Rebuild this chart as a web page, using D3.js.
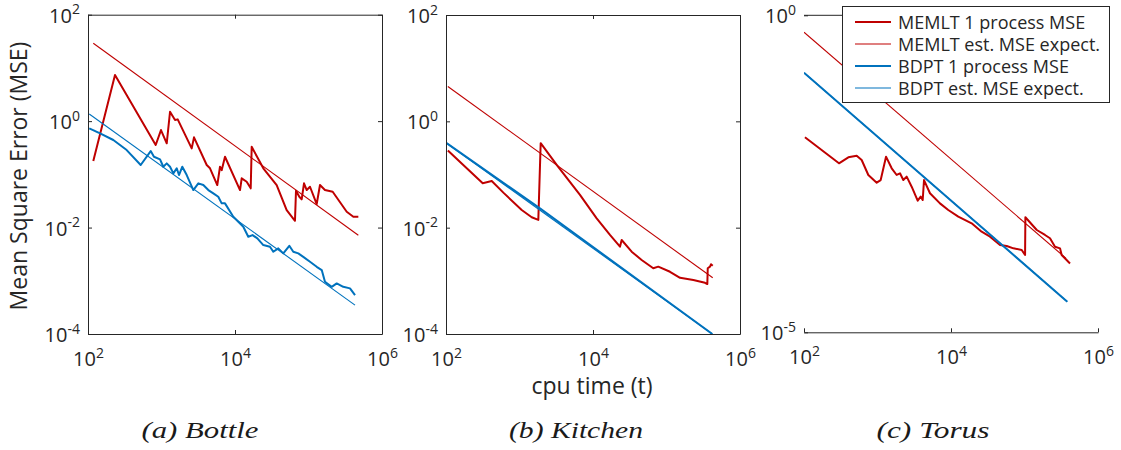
<!DOCTYPE html>
<html>
<head>
<meta charset="utf-8">
<script src="https://cdn.jsdelivr.net/npm/d3@7"></script>
<style>
  body { margin: 0; background: #fff; }
  svg text { font-family: "Open Sans", "Noto Sans", sans-serif; fill: #262626; }
  svg text.caption { font-family: "Liberation Serif", serif; font-style: italic; fill: #1a1a1a; }
</style>
</head>
<body>
<svg id="chart" width="1121" height="450"></svg>
<script>
// ---- tick exponents (labels are drawn as 10^e) ----
const xTickExps = [2, 4, 6];
const yTickExpsWide = [2, 0, -2, -4];
const yTickExpsTorus = [0, -5];

// ---- legend / caption text ----
const seriesNames = ["MEMLT 1 process MSE", "MEMLT est. MSE expect.", "BDPT 1 process MSE", "BDPT est. MSE expect."];
const captions = ["(a) Bottle", "(b) Kitchen", "(c) Torus"];

// ---- Bottle: [cpu time, MSE] ----
const bottleMemlt = [[118,0.178],[233,7.36],[834,0.356],[984,0.68],[1178,0.383],[1306,1.50],[1528,1.05],[1661,1.08],
  [2576,0.308],[2768,0.496],[4121,0.150],[4571,0.130],[5741,0.063],[6250,0.139],[6590,0.120],[7310,0.214],
  [11700,0.0507],[12330,0.0841],[14420,0.0726],[16360,0.0546],[16870,0.330],[24270,0.130],[36900,0.063],
  [50470,0.0213],[65460,0.0134],[67600,0.0492],[74990,0.0379],[80760,0.0339],[86870,0.0678],[94600,0.0507],
  [104800,0.0585],[129300,0.0277],[143300,0.063],[167500,0.0507],[213300,0.0471],[331100,0.0198],[407400,0.0160],[476400,0.0160]];
const bottleMemltEst = [[118,29],[476400,0.00718]];
const bottleBdpt = [[104,0.733],[146,0.590],[221,0.442],[336,0.286],[521,0.150],[713,0.274],[790,0.214],[955,0.191],
  [1058,0.139],[1178,0.161],[1306,0.139],[1449,0.1045],[1611,0.130],[1730,0.097],[1919,0.139],[2203,0.097],
  [2710,0.0507],[3170,0.0678],[3707,0.063],[4335,0.0507],[5070,0.044],[5920,0.0379],[6590,0.0285],[7310,0.0285],
  [9480,0.016],[11090,0.01285],[12970,0.01035],[15160,0.00671],[17340,0.00723],[20140,0.00627],[24270,0.00469],
  [29920,0.00436],[33190,0.00351],[38820,0.00406],[45400,0.00327],[54830,0.00455],[62090,0.00351],[72610,0.00327],
  [84920,0.00282],[104800,0.00228],[129300,0.00183],[151400,0.00159],[167500,0.000957],[206800,0.00077],
  [242100,0.000893],[297200,0.00077],[367000,0.00072],[429500,0.000538]];
const bottleBdptEst = [[104,1.36],[429500,0.000349]];

// ---- Kitchen ----
const kitchenMemlt = [[106,0.282],[316,0.0686],[419,0.0757],[603,0.0456],[1072,0.0215],[1466,0.0157],[1803,0.014],
  [1942,0.388],[3206,0.152],[6650,0.0413],[11220,0.0150],[17010,0.0073],[23280,0.00439],[24550,0.00586],
  [33570,0.00353],[45920,0.00247],[66070,0.00172],[77270,0.00185],[111600,0.00148],[152800,0.00114],
  [231800,0.00104],[334200,0.00092],[359300,0.00087],[364000,0.00172],[390900,0.00185],[402800,0.00205],[425600,0.00192]];
const kitchenMemltEst = [[106,4.52],[425600,0.00114]];
const kitchenBdpt = [[102,0.388],[1940,0.0226],[420000,0.0001]];
const kitchenBdptEst = [[102,0.388],[420000,0.0001]];

// ---- Torus ----
const torusMemlt = [[103,0.0119],[299,0.00463],[401,0.00576],[521,0.0061],[609,0.00522],[750,0.00303],[975,0.00229],
  [1105,0.00252],[1306,0.00589],[1560,0.00386],[1824,0.00303],[2023,0.00322],[2245,0.00252],[2495,0.00285],
  [2917,0.00198],[3521,0.00119],[3870,0.00138],[4121,0.00122],[4295,0.00252],[5176,0.00156],[7080,0.00108],
  [9180,0.00085],[12560,0.000666],[19100,0.000524],[26120,0.000386],[33960,0.000322],[46450,0.000238],
  [57280,0.00023],[70630,0.000211],[91650,0.000199],[101800,0.000166],[102800,0.000652],[146900,0.000411],
  [190100,0.000343],[222300,0.000304],[260000,0.000224],[304100,0.000211],[320600,0.000166],[416000,0.000122]];
const torusMemltEst = [[100,0.54],[367000,0.000147]];
const torusBdpt = [[100,0.1244],[382000,0.0000304]];
const torusBdptEst = [[100,0.1244],[382000,0.0000304]];

// ---- styling ----
const RED = "#bf0000", BLUE = "#0072bd", AXIS = "#262626";
const styles = [
  { color: RED, width: 2 },
  { color: RED, width: 1.1 },
  { color: BLUE, width: 2 },
  { color: BLUE, width: 1.1 }
];

const panels = [
  { left: 88, right: 382, top: 14.7, bottom: 334, yDomain: [1e-4, 1e2], yTicks: yTickExpsWide, box: true,
    caption: captions[0], capX: 200, capW: 117, series: [bottleMemlt, bottleMemltEst, bottleBdpt, bottleBdptEst] },
  { left: 446, right: 740, top: 15, bottom: 334, yDomain: [1e-4, 1e2], yTicks: yTickExpsWide, box: true,
    caption: captions[1], capX: 576, capW: 134, series: [kitchenMemlt, kitchenMemltEst, kitchenBdpt, kitchenBdptEst] },
  { left: 804, right: 1098, top: 15.3, bottom: 332.3, yDomain: [1e-5, 1e0], yTicks: yTickExpsTorus, box: false,
    caption: captions[2], capX: 933, capW: 113, series: [torusMemlt, torusMemltEst, torusBdpt, torusBdptEst] }
];

const svg = d3.select("#chart");
svg.append("rect").attr("width", 1121).attr("height", 450).attr("fill", "#fff");

function powerLabel(sel) {
  sel.each(function(d) {
    const t = d3.select(this);
    t.text(null);
    t.append("tspan").text("10");
    t.append("tspan").attr("dy", -8.5).attr("font-size", 14).text(String(Math.round(Math.log10(d))));
  });
}

panels.forEach((p, i) => {
  const x = d3.scaleLog().domain([1e2, 1e6]).range([p.left, p.right]);
  const y = d3.scaleLog().domain(p.yDomain).range([p.bottom, p.top]);
  const xVals = xTickExps.map(e => Math.pow(10, e));
  const yVals = p.yTicks.map(e => Math.pow(10, e));
  const g = svg.append("g");

  const clipId = "clip" + i;
  g.append("clipPath").attr("id", clipId).append("rect")
    .attr("x", p.left).attr("y", p.top).attr("width", p.right - p.left).attr("height", p.bottom - p.top);

  // data lines
  const line = d3.line().x(d => x(d[0])).y(d => y(d[1]));
  const lines = g.append("g").attr("clip-path", `url(#${clipId})`);
  p.series.forEach((s, k) => {
    lines.append("path").datum(s).attr("d", line).attr("fill", "none")
      .attr("stroke", styles[k].color).attr("stroke-width", styles[k].width)
      .attr("stroke-linejoin", "round");
  });

  // bottom axis
  const gx = g.append("g").attr("transform", `translate(0,${p.bottom})`)
    .call(d3.axisBottom(x).tickValues(xVals).tickSizeInner(-4).tickSizeOuter(0).tickFormat(() => ""));
  gx.select(".domain").attr("stroke", AXIS);
  gx.selectAll(".tick line").attr("stroke", AXIS);
  gx.selectAll(".tick text").attr("y", 32).attr("dy", null).attr("font-size", 20)
    .attr("text-anchor", "middle").attr("fill", AXIS).call(powerLabel);

  // left axis
  const gy = g.append("g").attr("transform", `translate(${p.left},0)`)
    .call(d3.axisLeft(y).tickValues(yVals).tickSizeInner(-4).tickSizeOuter(0).tickFormat(() => ""));
  gy.selectAll(".tick line").attr("stroke", AXIS);
  gy.selectAll(".tick text").attr("x", -8).attr("dy", null).attr("y", 7.5).attr("font-size", 20)
    .attr("text-anchor", "end").attr("fill", AXIS).call(powerLabel);
  if (p.box) {
    gy.select(".domain").attr("stroke", AXIS);
    // mirrored top / right axes
    const gt = g.append("g").attr("transform", `translate(0,${p.top})`)
      .call(d3.axisTop(x).tickValues(xVals).tickSizeInner(-4).tickSizeOuter(0).tickFormat(() => ""));
    gt.select(".domain").attr("stroke", AXIS);
    gt.selectAll(".tick line").attr("stroke", AXIS);
    const gr = g.append("g").attr("transform", `translate(${p.right},0)`)
      .call(d3.axisRight(y).tickValues(yVals).tickSizeInner(-4).tickSizeOuter(0).tickFormat(() => ""));
    gr.select(".domain").attr("stroke", AXIS);
    gr.selectAll(".tick line").attr("stroke", AXIS);
  } else {
    gy.select(".domain").remove();
    g.append("line").attr("x1", p.left).attr("x2", p.right).attr("y1", p.top).attr("y2", p.top)
      .attr("stroke", AXIS);
  }

  // caption
  svg.append("text").attr("class", "caption").attr("x", p.capX - p.capW / 2).attr("y", 438)
    .attr("font-size", 23).attr("textLength", p.capW).attr("lengthAdjust", "spacingAndGlyphs")
    .text(p.caption);
});

// axis titles
svg.append("text").attr("transform", "translate(18,176) rotate(-90)")
  .attr("text-anchor", "middle").attr("dominant-baseline", "central").attr("font-size", 23)
  .text("Mean Square Error (MSE)");
svg.append("text").attr("x", 592).attr("y", 394).attr("text-anchor", "middle").attr("font-size", 23)
  .text("cpu time (t)");

// legend
const leg = svg.append("g");
leg.append("rect").attr("x", 842.5).attr("y", 6.5).attr("width", 267).attr("height", 96)
  .attr("fill", "#fff").attr("stroke", AXIS).attr("stroke-width", 1);
const rowY = d3.scalePoint().domain(seriesNames).range([22, 88]);
seriesNames.forEach((name, k) => {
  const yy = rowY(name);
  leg.append("line").attr("x1", 855).attr("x2", 891).attr("y1", yy).attr("y2", yy)
    .attr("stroke", styles[k].color).attr("stroke-width", styles[k].width);
  leg.append("text").attr("x", 898).attr("y", yy + 6.5).attr("font-size", 18).text(name);
});
</script>
</body>
</html>
